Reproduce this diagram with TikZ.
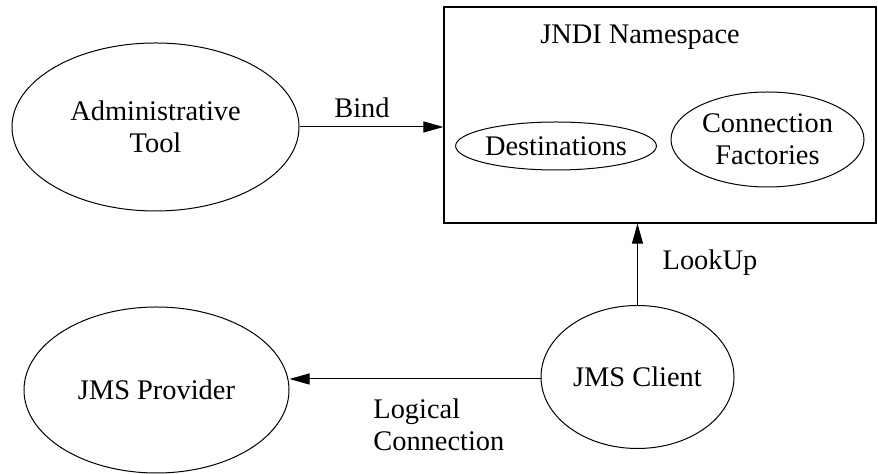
\documentclass[tikz,border=0pt]{standalone}
\usepackage{fontspec}
\setmainfont{Liberation Serif}
\usepackage{tikz}
\usetikzlibrary{shapes.geometric,arrows.meta,calc}

\tikzset{
    blob/.style={draw, ellipse, inner sep=0pt, line width=0.5pt, align=center},
    flow/.style={line width=0.5pt, -{Triangle[length=10pt,width=5.5pt]}},
    lbl/.style={inner sep=0pt}
}

\begin{document}
\begin{tikzpicture}[x=0.5pt, y=-0.5pt, font=\fontsize{14.2}{15.8}\selectfont]
    \useasboundingbox (0,0) rectangle (878,474);

    % JNDI box
    \node [draw, line width=0.6pt, minimum width=216pt, minimum height=108pt, inner sep=0pt] (jndi) at (660,115) {};
    \node [lbl] (jnditext) at (640,37) {JNDI Namespace};
    \node [blob, minimum width=96pt, minimum height=24pt] (dest) at (556,146) {Destinations};
    \node [blob, minimum width=96.5pt, minimum height=47.5pt] (factories) at (767.5,139.5) {Connection\\Factories};

    % the other parts
    \node [blob, minimum width=143.5pt, minimum height=84pt] (admin) at (155.5,127) {Administrative\\Tool};
    \node [blob, minimum width=96.5pt, minimum height=71.5pt] (client) at (637.5,377) {JMS Client};
    \node [blob, minimum width=132.5pt, minimum height=83pt] (provider) at (156.5,390) {JMS Provider};

    % Arrows
    \draw [flow] (admin.east) -- (admin.east -| jndi.west);
    \node [lbl] (bind) at (362,108) {Bind};
    \draw [flow] (client.north) -- (client.north |- jndi.south);
    \node [lbl] (lookup) at (710,263) {LookUp};
    \draw [flow] ($(client.west)+(0,2)$) -- ($(client.west -| provider.east)+(0,2)$);
    \node [lbl, anchor=west, align=left] (logical) at (373,425) {Logical\\Connection};
\end{tikzpicture}
\end{document}
